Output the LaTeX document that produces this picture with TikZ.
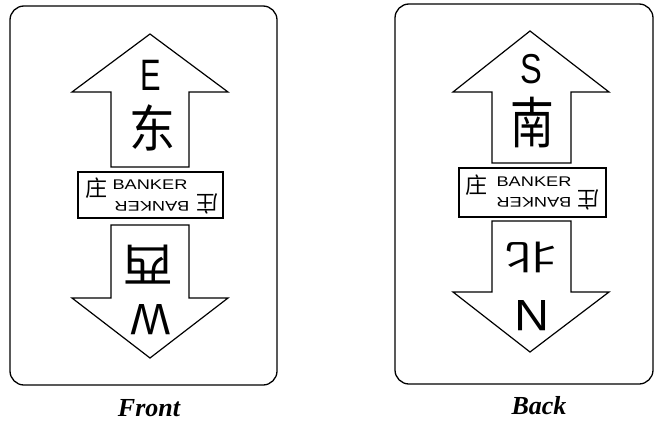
\documentclass[tikz,border=0pt]{standalone}
\usepackage{graphicx}
\usepackage{fontspec}
\setmainfont{Liberation Sans}
\newfontfamily\cjk{Noto Sans CJK SC}
\newfontfamily\serifbi{Liberation Serif}
\begin{document}
\begin{tikzpicture}[x=1pt,y=-1pt,
  card/.style={draw, line width=1.3pt, rounded corners=14pt},
  arrowshape/.style={draw, line width=1.2pt, line join=miter},
  banner/.style={draw, line width=1.1pt},
  dirletter/.style={inner sep=0pt, font=\fontsize{44}{44}\selectfont},
  hanzi/.style={inner sep=0pt, font=\cjk\fontsize{46}{46}\selectfont},
  bankz/.style={inner sep=0pt, font=\cjk\fontsize{22}{22}\selectfont},
  bankw/.style={inner sep=0pt, font=\fontsize{14}{14}\selectfont},
  caption/.style={inner sep=0pt, font=\serifbi\bfseries\itshape\fontsize{26}{26}\selectfont}]
\useasboundingbox (0,0) rectangle (655,423);

% ---------- Front card ----------
\draw[card] (10,6) rectangle (277,385);
\draw[arrowshape] (111,167) -- (111,92) -- (72,92) -- (150,34) -- (228,92) -- (189,92) -- (189,167) -- cycle;
\draw[arrowshape] (111,225) -- (189,225) -- (189,298) -- (228,298) -- (150,358) -- (72,298) -- (111,298) -- cycle;
\draw[banner] (78,172) rectangle (223,218);

\node[dirletter] (fE) at (151,75) {\scalebox{0.7}[1]{E}};
\node[hanzi] (fdong) at (152,128) {\scalebox{1}[1.1]{东}};
\node[hanzi, rotate=180] (fxi) at (148,265) {\scalebox{1.1}[1]{西}};
\node[dirletter, rotate=180] (fW) at (151,320) {\scalebox{0.95}[1]{W}};

\node[bankz] (fz1) at (96,188) {庄};
\node[bankw] (fb1) at (150,185) {\scalebox{1.3}[1]{BANKER}};
\node[bankw, rotate=180] (fb2) at (152,206) {\scalebox{1.3}[1]{BANKER}};
\node[bankz, rotate=180] (fz2) at (207,204) {庄};

\node[caption] (front) at (149,408) {Front};

% ---------- Back card ----------
\draw[card] (395,4) rectangle (653,384);
\draw[arrowshape] (492,163) -- (492,92) -- (453,92) -- (530,31) -- (609,92) -- (571,92) -- (571,163) -- cycle;
\draw[arrowshape] (492,221) -- (571,221) -- (571,292) -- (609,292) -- (530,352) -- (453,292) -- (492,292) -- cycle;
\draw[banner] (459,168) rectangle (606,217);

\node[dirletter] (bS) at (531,69) {\scalebox{0.74}[0.95]{S}};
\node[hanzi] (bnan) at (532,123) {\scalebox{0.95}[1.2]{南}};
\node[hanzi, rotate=180] (bbei) at (531,257) {\scalebox{1.1}[0.75]{北}};
\node[dirletter, rotate=180] (bN) at (532,316) {\scalebox{1.1}[1]{N}};

\node[bankz] (bz1) at (476,185) {庄};
\node[bankw] (bb1) at (534,182) {\scalebox{1.3}[1]{BANKER}};
\node[bankw, rotate=180] (bb2) at (534,202) {\scalebox{1.3}[1]{BANKER}};
\node[bankz, rotate=180] (bz2) at (588,200) {庄};

\node[caption] (back) at (539,406) {Back};
\end{tikzpicture}
\end{document}
